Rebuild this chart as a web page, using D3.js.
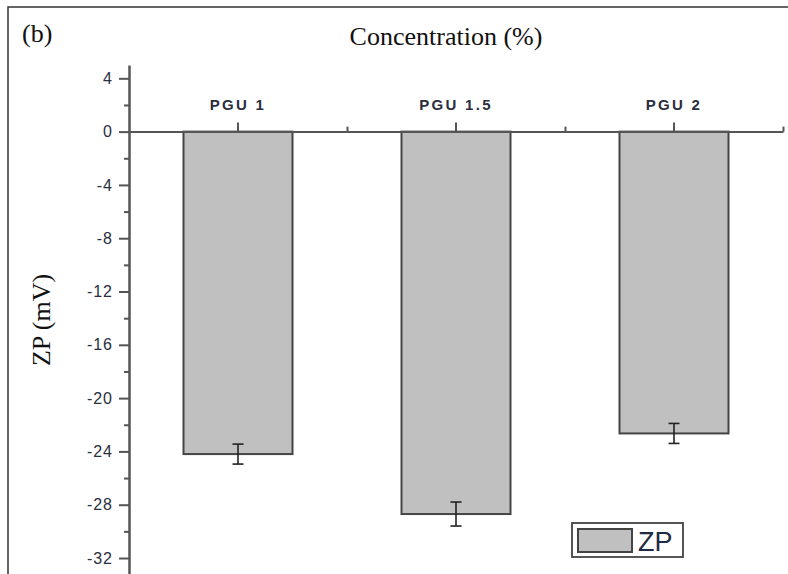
<!DOCTYPE html>
<html>
<head>
<meta charset="utf-8">
<script src="https://cdn.jsdelivr.net/npm/d3@7"></script>
<style>
  body { margin: 0; background: #fff; }
  svg { display: block; }
  .tick text { fill: #2a2e3e; }
</style>
</head>
<body>
<svg id="chart"></svg>
<script>
// data
const categories = ["PGU 1", "PGU 1.5", "PGU 2"];
const zpValues = [-24.2, -28.7, -22.65];
const zpErrors = [0.75, 0.9, 0.75];
const yMajorTicks = [4, 0, -4, -8, -12, -16, -20, -24, -28, -32];
const yMinorTicks = [2, -2, -6, -10, -14, -18, -22, -26, -30];

const width = 788, height = 574;

const svg = d3.select("#chart").attr("width", width).attr("height", height);

// outer frame
svg.append("rect")
  .attr("x", 8).attr("y", 7)
  .attr("width", width + 20).attr("height", height + 20)
  .attr("fill", "none").attr("stroke", "#333").attr("stroke-width", 1.5);

const x = d3.scaleBand().domain(categories).range([129, 783]).padding(0);
const xEdge = d3.scaleLinear().domain([0, categories.length]).range([129, 783]);
const y = d3.scaleLinear().domain([-33.2, 5]).range([574, 65]);

const axisColor = "#555";

// bars
const barW = x.bandwidth() / 2;
const bars = svg.append("g");
bars.selectAll("rect")
  .data(categories)
  .enter().append("rect")
  .attr("x", d => x(d) + x.bandwidth() / 2 - barW / 2)
  .attr("y", y(0))
  .attr("width", barW)
  .attr("height", (d, i) => y(zpValues[i]) - y(0))
  .attr("fill", "#c0c0c0")
  .attr("stroke", "#444")
  .attr("stroke-width", 2);

// error bars
const capW = 11;
const err = svg.append("g").attr("stroke", "#222").attr("stroke-width", 1.6);
categories.forEach((c, i) => {
  const cx = x(c) + x.bandwidth() / 2;
  const top = y(zpValues[i] + zpErrors[i]);
  const bot = y(zpValues[i] - zpErrors[i]);
  err.append("line").attr("x1", cx).attr("x2", cx).attr("y1", top).attr("y2", bot);
  err.append("line").attr("x1", cx - capW / 2).attr("x2", cx + capW / 2).attr("y1", top).attr("y2", top);
  err.append("line").attr("x1", cx - capW / 2).attr("x2", cx + capW / 2).attr("y1", bot).attr("y2", bot);
});

// y axis - minor ticks
svg.append("g")
  .attr("transform", `translate(${x.range()[0]},0)`)
  .call(d3.axisLeft(y).tickValues(yMinorTicks).tickSize(5).tickFormat(""))
  .call(g => g.select(".domain").remove())
  .call(g => g.selectAll("line").attr("stroke", axisColor).attr("stroke-width", 2));

// y axis - major
svg.append("g")
  .attr("transform", `translate(${x.range()[0]},0)`)
  .call(d3.axisLeft(y).tickValues(yMajorTicks).tickSize(10).tickSizeOuter(0).tickPadding(6)
    .tickFormat(d => String(d)))
  .call(g => g.select(".domain").attr("stroke", axisColor).attr("stroke-width", 2.5))
  .call(g => g.selectAll("line").attr("stroke", axisColor).attr("stroke-width", 2))
  .call(g => g.selectAll("text")
    .attr("font-family", "Arial, 'Liberation Sans', sans-serif")
    .attr("font-size", 16)
    .attr("letter-spacing", 1));

// x axis at zero, ticks up
svg.append("g")
  .attr("transform", `translate(0,${y(0)})`)
  .call(d3.axisTop(xEdge).tickValues([1, 2, 3]).tickSize(5).tickFormat(""))
  .call(g => g.select(".domain").remove())
  .call(g => g.selectAll("line").attr("stroke", axisColor).attr("stroke-width", 2));

svg.append("g")
  .attr("transform", `translate(0,${y(0)})`)
  .call(d3.axisTop(x).tickSizeInner(9).tickSizeOuter(0).tickPadding(13))
  .call(g => g.select(".domain").attr("stroke", axisColor).attr("stroke-width", 2))
  .call(g => g.selectAll("line").attr("stroke", axisColor).attr("stroke-width", 2))
  .call(g => g.selectAll("text")
    .attr("font-family", "Arial, 'Liberation Sans', sans-serif")
    .attr("font-size", 15)
    .attr("font-weight", "bold")
    .attr("letter-spacing", 2.3));

// titles
svg.append("text")
  .attr("x", 446).attr("y", 45)
  .attr("text-anchor", "middle")
  .attr("font-family", "'Times New Roman', 'Liberation Serif', serif")
  .attr("font-size", 26)
  .attr("fill", "#111")
  .text("Concentration (%)");

svg.append("text")
  .attr("x", 22).attr("y", 42)
  .attr("font-family", "'Times New Roman', 'Liberation Serif', serif")
  .attr("font-size", 26)
  .attr("fill", "#111")
  .text("(b)");

svg.append("text")
  .attr("transform", "translate(50,320) rotate(-90)")
  .attr("text-anchor", "middle")
  .attr("font-family", "'Times New Roman', 'Liberation Serif', serif")
  .attr("font-size", 26)
  .attr("fill", "#111")
  .text("ZP (mV)");

// legend
const legend = svg.append("g").attr("transform", "translate(572,523)");
legend.append("rect")
  .attr("width", 111).attr("height", 34)
  .attr("fill", "#fff").attr("stroke", "#444").attr("stroke-width", 1.8);
legend.append("rect")
  .attr("x", 6).attr("y", 6).attr("width", 54).attr("height", 23)
  .attr("fill", "#c0c0c0").attr("stroke", "#444").attr("stroke-width", 2);
legend.append("text")
  .attr("x", 66).attr("y", 28)
  .attr("font-family", "Arial, 'Liberation Sans', sans-serif")
  .attr("font-size", 27)
  .attr("fill", "#1f2a44")
  .text("ZP");
</script>
</body>
</html>
